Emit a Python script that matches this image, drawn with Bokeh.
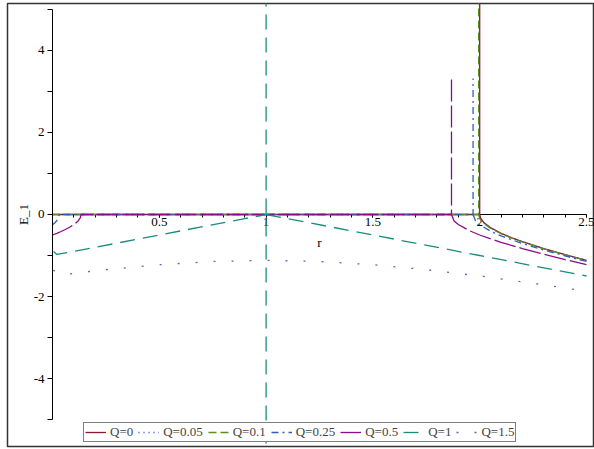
from bokeh.plotting import figure
from bokeh.models import Range1d, FixedTicker
from bokeh.embed import file_html
from bokeh.resources import INLINE

NaN = float("nan")

# ---- data (NaN = break in a curve) ----
r_q0 = [0.0, 2.0, 2.0, NaN, 2.0, 2.005, 2.02, 2.05, 2.1, 2.15, 2.2, 2.3, 2.4, 2.5]
e_q0 = [0.0, 0.0, 6.0, NaN, 0.0, -0.100, -0.201, -0.320, -0.458, -0.568, -0.663, -0.831, -0.980, -1.118]

r_q005 = [0.0, 1.9988, 1.9988, NaN, 1.9988, 2.0, 2.01, 2.02, 2.05, 2.1, 2.15, 2.2, 2.3, 2.4, 2.5]
e_q005 = [0.0, 0.0, 6.0, NaN, 0.0, -0.050, -0.150, -0.207, -0.324, -0.461, -0.570, -0.665, -0.832, -0.981, -1.119]

r_q01 = [0.0, 1.995, 1.995, NaN, 1.995, 2.0, 2.01, 2.02, 2.05, 2.1, 2.15, 2.2, 2.3, 2.4, 2.5]
e_q01 = [0.0, 0.0, 6.0, NaN, 0.0, -0.100, -0.173, -0.224, -0.335, -0.469, -0.577, -0.671, -0.837, -0.985, -1.122]

r_q025 = [0.0, 0.01, 0.02, 0.025, 0.03, 0.032, 1.969, 1.969, NaN, 1.969, 1.98, 2.0, 2.05, 2.1, 2.2, 2.3, 2.4, 2.5]
e_q025 = [-0.25, -0.206, -0.151, -0.115, -0.058, 0.0, 0.0, 3.32, NaN, 0.0, -0.151, -0.25, -0.406, -0.522, -0.709, -0.867, -1.011, -1.146]

r_q05 = [0.0, 0.02, 0.04, 0.06, 0.08, 0.1, 0.12, 0.13, 0.134, 1.868, 1.868, NaN, 1.868, 1.88, 1.9, 1.95, 2.0, 2.1, 2.2, 2.3, 2.4, 2.5]
e_q05 = [-0.5, -0.459, -0.414, -0.366, -0.310, -0.245, -0.156, -0.083, 0.0, 0.0, 3.37, NaN, 0.0, -0.156, -0.245, -0.391, -0.5, -0.678, -0.831, -0.970, -1.1, -1.225]

r_q1 = [0.005, 0.02, 0.1, 0.5, 0.9, 1.0, NaN, 1.0, 1.0, NaN, 1.0, 1.1, 1.5, 2.0, 2.5]
e_q1 = [-0.90, -0.975, -0.90, -0.50, -0.10, 0.0, NaN, 6.0, -6.0, NaN, 0.0, -0.10, -0.50, -1.00, -1.50]

r_q15 = [0.003, 0.05, 0.1, 0.25, 0.5, 0.75, 1.0, 1.25, 1.5, 1.75, 2.0, 2.25, 2.5]
e_q15 = [-1.36, -1.47, -1.435, -1.346, -1.225, -1.146, -1.118, -1.146, -1.225, -1.346, -1.5, -1.677, -1.871]

labels = ["Q=0", "Q=0.05", "Q=0.1", "Q=0.25", "Q=0.5", "Q=1", "Q=1.5"]

x_ticks = [0.5, 1, 1.5, 2, 2.5]
x_tick_labels = ["0.5", "1", "1.5", "2", "2.5"]
x_minor = [round(0.1 * i, 1) for i in range(0, 26)]
y_ticks = [-4, -2, 0, 2, 4]
y_tick_labels = ["-4", "-2", "0", "2", "4"]
y_minor = [-5, -3, -1, 1, 3, 5]

# ---- styling ----
series = [
    (r_q0, e_q0, "#8B1A2E", "solid"),
    (r_q005, e_q005, "#3A3AC8", "1 4"),
    (r_q01, e_q01, "#5E8E1E", "8 4"),
    (r_q025, e_q025, "#2E62B0", "7 4 2 4"),
    (r_q05, e_q05, "#8A0A8A", "22 4"),
    (r_q1, e_q1, "#1A8C7C", "15 8"),
    (r_q15, e_q15, "#6A5ACD", "2 16"),
]

FONT = "Liberation Serif"

p = figure(width=594, height=449, output_backend="svg", toolbar_location=None,
           x_range=Range1d(-0.2107, 2.5375), y_range=Range1d(-5.6585, 5.1463),
           min_border_left=7, min_border_right=0, min_border_top=3, min_border_bottom=3)
p.xgrid.visible = False
p.ygrid.visible = False
p.outline_line_color = "#333333"
p.outline_line_width = 1.5
p.background_fill_color = "white"
p.border_fill_color = "white"

for (xs, ys, col, dash), lab in zip(series, labels):
    p.line(xs, ys, line_color=col, line_width=1.3, line_dash=dash, legend_label=lab)

xa = p.xaxis[0]
xa.fixed_location = 0
xa.bounds = (0, 2.5)
xa.ticker = FixedTicker(ticks=x_ticks, minor_ticks=x_minor)
xa.major_label_overrides = dict(zip(x_ticks, x_tick_labels))
xa.axis_label = "r"
xa.major_tick_out = 3
xa.major_tick_in = 0
xa.minor_tick_out = 3
xa.minor_tick_in = 0
xa.major_label_standoff = 1
xa.axis_label_standoff = 5
xa.level = "underlay"

ya = p.yaxis[0]
ya.fixed_location = 0
ya.bounds = (-5, 5)
ya.ticker = FixedTicker(ticks=y_ticks, minor_ticks=y_minor)
ya.major_label_overrides = dict(zip(y_ticks, y_tick_labels))
ya.axis_label = "E_1"
ya.major_tick_out = 5
ya.major_tick_in = 0
ya.minor_tick_out = 5
ya.minor_tick_in = 0
ya.major_label_standoff = 3
ya.axis_label_standoff = 0

for ax in (xa, ya):
    ax.axis_line_color = "black"
    ax.major_tick_line_color = "black"
    ax.minor_tick_line_color = "black"
    ax.major_label_text_font = FONT
    ax.major_label_text_font_size = "13px"
    ax.major_label_text_color = "black"
    ax.axis_label_text_font = FONT
    ax.axis_label_text_font_size = "13px"
    ax.axis_label_text_font_style = "normal"
    ax.axis_label_text_color = "black"

lg = p.legend[0]
lg.orientation = "horizontal"
lg.location = (76, 4)
lg.border_line_color = "black"
lg.border_line_width = 1
lg.background_fill_color = "white"
lg.background_fill_alpha = 1
lg.label_text_font = FONT
lg.label_text_font_size = "13px"
lg.glyph_width = 21
lg.glyph_height = 12
lg.label_height = 12
lg.label_width = 10
lg.label_standoff = 4
lg.spacing = 5
lg.padding = 1
lg.margin = 0

open("out.html", "w").write(file_html(p, INLINE))
